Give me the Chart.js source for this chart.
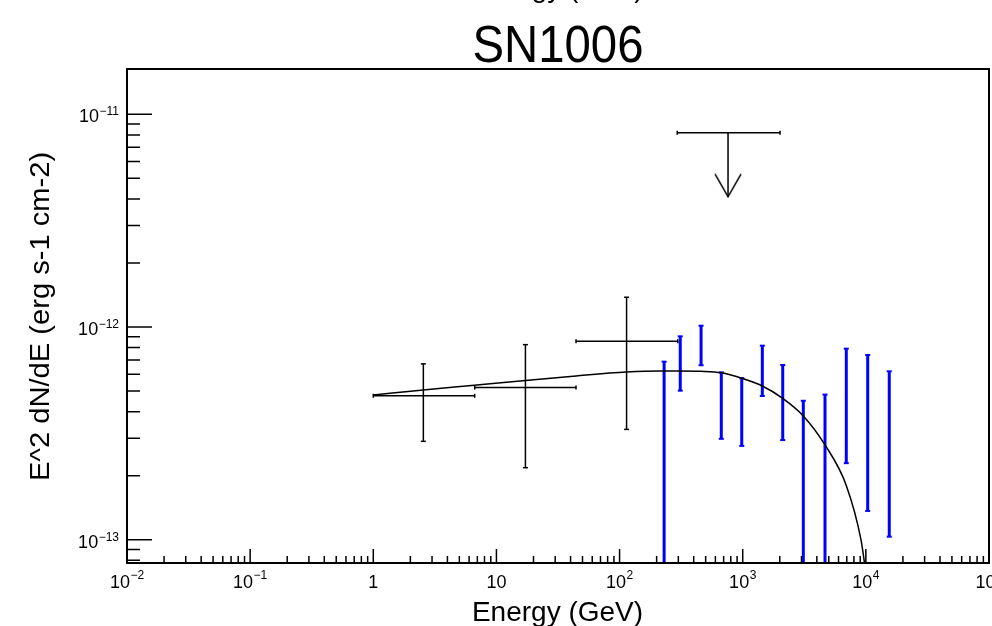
<!DOCTYPE html>
<html>
<head>
<meta charset="utf-8">
<title>SN1006</title>
<script src="https://cdn.jsdelivr.net/npm/chart.js@4.4.1/dist/chart.umd.min.js"></script>
<style>
  html, body { margin: 0; padding: 0; background: #fff; }
  canvas { display: block; }
</style>
</head>
<body>
<canvas id="chart" width="992" height="626"></canvas>
<script>
// ─── Data ────────────────────────────────────────────
var X_MIN = 1e-2, X_MAX = 1e5;
var Y_MIN = 7.77e-14, Y_MAX = 1.633e-11;

// Fermi-LAT points (black crosses)
var fermiE      = [2.55, 17.2, 114];
var fermiElo    = [1.0, 6.66, 44.3];
var fermiEhi    = [6.66, 44.3, 297];
var fermiFlux   = [4.75e-13, 5.19e-13, 8.57e-13];
var fermiFluxLo = [2.90e-13, 2.18e-13, 3.30e-13];
var fermiFluxHi = [6.71e-13, 8.26e-13, 1.38e-12];

// upper limit (black arrow)
var ulE = 760, ulElo = 294, ulEhi = 2010;
var ulFlux = 8.19e-12, ulArrowTo = 4.1e-12;

// H.E.S.S. points (blue bars); 1e-14 = lower end runs below the frame
var hessE      = [230, 311, 459, 670, 982, 1443, 2113, 3105, 4659, 6935, 10350, 15490];
var hessFluxLo = [1e-14, 5.02e-13, 6.61e-13, 2.98e-13, 2.76e-13, 4.74e-13, 2.94e-13, 1e-14, 1e-14, 2.29e-13, 1.365e-13, 1.033e-13];
var hessFluxHi = [6.87e-13, 9.04e-13, 1.014e-12, 6.12e-13, 5.75e-13, 8.17e-13, 6.63e-13, 4.50e-13, 4.81e-13, 7.91e-13, 7.39e-13, 6.19e-13];

// model curve
var curveE    = [1, 2.55, 6.6, 17.2, 44.3, 114, 213, 310, 458, 670, 982, 1443, 2113, 3105, 4659, 6935, 9135, 10000];
var curveFlux = [4.79e-13, 5.06e-13, 5.32e-13, 5.61e-13, 5.89e-13, 6.14e-13, 6.21e-13, 6.21e-13, 6.19e-13, 6.09e-13,
                 5.74e-13, 5.28e-13, 4.62e-13, 3.82e-13, 2.79e-13, 1.80e-13, 9.97e-14, 7.0e-14];

// axis ticks / labels
var xTickVals   = [1e-2, 1e-1, 1, 10, 1e2, 1e3, 1e4, 1e5];
var xTickLabels = [['10', '\u22122'], ['10', '\u22121'], ['1', ''], ['10', ''], ['10', '2'], ['10', '3'], ['10', '4'], ['10', '5']];
var yTickVals   = [1e-13, 1e-12, 1e-11];
var yTickLabels = [['10', '\u221213'], ['10', '\u221212'], ['10', '\u221211']];

var TITLE = 'SN1006';
var X_TITLE = 'Energy (GeV)';
var Y_TITLE = 'E^2 dN/dE (erg s-1 cm-2)';

var FONT = '"Liberation Sans", Arial, Helvetica, sans-serif';
var BLUE = '#0000ff';

// ─── Helpers ─────────────────────────────────────────
function minorTicks(lo, hi) {
  var out = [];
  for (var d = Math.floor(Math.log10(lo)); d <= Math.ceil(Math.log10(hi)); d++) {
    for (var m = 2; m <= 9; m++) {
      var v = m * Math.pow(10, d);
      if (v > lo && v < hi) out.push(v);
    }
  }
  return out;
}

function vBar(x, lo, hi, color, width, cap) {
  return {
    data: [{ x: x, y: lo }, { x: x, y: hi }],
    showLine: true, borderColor: color, borderWidth: width,
    pointStyle: 'line', pointRadius: cap, pointBorderWidth: width > 2 ? 2 : width,
    pointBorderColor: color, pointRotation: 0, clip: 0
  };
}

function hBar(lo, hi, y, color, width, cap) {
  return {
    data: [{ x: lo, y: y }, { x: hi, y: y }],
    showLine: true, borderColor: color, borderWidth: width,
    pointStyle: 'line', pointRadius: cap, pointBorderWidth: width,
    pointBorderColor: color, pointRotation: 90, clip: 0
  };
}

function arrowHead() {
  var c = document.createElement('canvas');
  c.width = 30; c.height = 50;
  var g = c.getContext('2d');
  g.strokeStyle = '#000'; g.lineWidth = 1.5;
  g.beginPath(); g.moveTo(2, 2.3); g.lineTo(15, 25); g.lineTo(28, 2.3); g.stroke();
  return c;
}

// ─── Datasets ────────────────────────────────────────
var datasets = [];

datasets.push({
  data: curveE.map(function(e, i) { return { x: e, y: curveFlux[i] }; }),
  showLine: true, borderColor: '#000', borderWidth: 1.5, pointRadius: 0,
  cubicInterpolationMode: 'monotone', clip: 0
});

fermiE.forEach(function(e, i) {
  datasets.push(vBar(e, fermiFluxLo[i], fermiFluxHi[i], '#000', 1.5, 2.5));
  datasets.push(hBar(fermiElo[i], fermiEhi[i], fermiFlux[i], '#000', 1.5, 2));
});

datasets.push(hBar(ulElo, ulEhi, ulFlux, '#000', 1.5, 2));
datasets.push({
  data: [{ x: ulE, y: ulFlux }, { x: ulE, y: ulArrowTo }],
  showLine: true, borderColor: '#000', borderWidth: 1.5,
  pointStyle: [false, arrowHead()], pointRadius: [0, 3], clip: 0
});

hessE.forEach(function(e, i) {
  datasets.push(vBar(e, hessFluxLo[i], hessFluxHi[i], BLUE, 3, 2.5));
});

// ─── ROOT-style frame, ticks and text ────────────────
function drawPow(ctx, x, y, parts, align, supRise) {
  ctx.font = '18px ' + FONT;
  var w1 = ctx.measureText(parts[0]).width;
  ctx.font = '12px ' + FONT;
  var w2 = parts[1] ? ctx.measureText(parts[1]).width + 0.5 : 0;
  var left = align === 'center' ? x - (w1 + w2) / 2 : x - (w1 + w2);
  ctx.textAlign = 'left';
  ctx.font = '18px ' + FONT;
  ctx.fillText(parts[0], left, y);
  if (parts[1]) {
    ctx.font = '12px ' + FONT;
    ctx.fillText(parts[1], left + w1 + 0.5, y - supRise);
  }
}

function drawScaled(ctx, text, x, y, size, sx, rot) {
  ctx.save();
  ctx.translate(x, y);
  if (rot) ctx.rotate(rot);
  ctx.scale(sx, 1);
  ctx.font = size + 'px ' + FONT;
  ctx.textAlign = 'center';
  ctx.fillText(text, 0, 0);
  ctx.restore();
}

var rootAxes = {
  id: 'rootAxes',
  afterDraw: function(chart) {
    var ctx = chart.ctx, a = chart.chartArea;
    var xs = chart.scales.x, ys = chart.scales.y;
    ctx.save();
    ctx.strokeStyle = '#000';
    ctx.fillStyle = '#000';
    ctx.textBaseline = 'alphabetic';

    // ticks
    ctx.lineWidth = 1.5;
    ctx.beginPath();
    minorTicks(X_MIN, X_MAX).forEach(function(v) {
      var px = xs.getPixelForValue(v);
      ctx.moveTo(px, a.bottom); ctx.lineTo(px, a.bottom - 7);
    });
    xTickVals.forEach(function(v) {
      var px = xs.getPixelForValue(v);
      ctx.moveTo(px, a.bottom); ctx.lineTo(px, a.bottom - 14);
    });
    minorTicks(Y_MIN, Y_MAX).forEach(function(v) {
      var py = ys.getPixelForValue(v);
      ctx.moveTo(a.left, py); ctx.lineTo(a.left + 13, py);
    });
    yTickVals.forEach(function(v) {
      var py = ys.getPixelForValue(v);
      ctx.moveTo(a.left, py); ctx.lineTo(a.left + 25, py);
    });
    ctx.stroke();

    // frame
    ctx.lineWidth = 2;
    ctx.strokeRect(a.left, a.top, a.right - a.left, a.bottom - a.top);

    // tick labels
    xTickVals.forEach(function(v, i) {
      drawPow(ctx, xs.getPixelForValue(v), a.bottom + 25, xTickLabels[i], 'center', 9);
    });
    yTickVals.forEach(function(v, i) {
      drawPow(ctx, a.left - 8, ys.getPixelForValue(v) + 8, yTickLabels[i], 'right', 7);
    });

    // titles
    drawScaled(ctx, TITLE, 558, 62, 52, 0.91);
    drawScaled(ctx, X_TITLE, 558, -3, 28, 1);      // clipped copy at the very top
    drawScaled(ctx, X_TITLE, 557.5, 621, 28, 1);
    drawScaled(ctx, Y_TITLE, 49, 316.5, 28, 1.04, -Math.PI / 2);

    ctx.restore();
  }
};

// ─── Chart ───────────────────────────────────────────
new Chart(document.getElementById('chart').getContext('2d'), {
  type: 'scatter',
  data: { datasets: datasets },
  options: {
    responsive: false, animation: false, events: [],
    layout: { autoPadding: false, padding: { left: 127, right: 3, top: 69, bottom: 63 } },
    plugins: { legend: { display: false }, tooltip: { enabled: false } },
    scales: {
      x: { type: 'logarithmic', min: X_MIN, max: X_MAX, display: false },
      y: { type: 'logarithmic', min: Y_MIN, max: Y_MAX, display: false }
    }
  },
  plugins: [rootAxes]
});
</script>
</body>
</html>
